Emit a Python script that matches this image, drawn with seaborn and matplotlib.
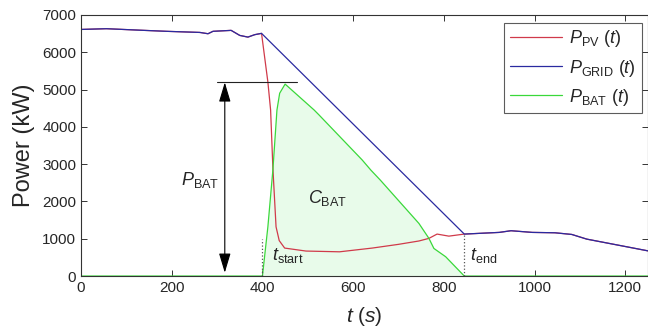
import numpy as np
import pandas as pd
import seaborn as sns
import matplotlib.pyplot as plt

# values (t in s, power in kW)
t_grid = [0, 56, 130, 188, 262, 280, 291, 331, 350, 368, 383, 398,
          845, 922, 948, 995, 1045, 1082, 1115, 1250]
p_grid = [6610, 6630, 6590, 6560, 6530, 6495, 6560, 6585, 6450, 6405, 6470, 6505,
          1125, 1170, 1215, 1170, 1160, 1115, 990, 675]

# PV drop between t_start and t_end (outside it PV sits under the grid curve)
t_pv_mid = [398, 412, 418, 423, 430, 437, 449, 496, 570, 642, 700, 745, 767, 785, 811, 845]
p_pv_mid = [6505, 5200, 4450, 2900, 1320, 950, 750, 670, 650, 750, 850, 940, 1010, 1125, 1070, 1125]

t_bat = [0, 400, 412, 423, 432, 438, 450, 514, 525, 620, 639, 660, 745, 767, 778, 804, 845, 1250]
p_bat = [0, 0, 1320, 2840, 4450, 4900, 5145, 4450, 4315, 3110, 2840, 2570, 1410, 1010, 740, 517, 0, 0]

t_start, t_end = 400, 845
p_bat_max = 5190

sns.set_style('ticks')
plt.rcParams['font.family'] = ['Liberation Sans', 'DejaVu Sans']
plt.rcParams['mathtext.fontset'] = 'custom'
plt.rcParams['mathtext.rm'] = 'Liberation Sans'
plt.rcParams['mathtext.it'] = 'Liberation Sans:italic'

# PV = grid before t_start and after t_end
tg = np.array(t_grid)
pg = np.array(p_grid)
t_pv = list(tg[tg < t_pv_mid[0]]) + t_pv_mid + list(tg[tg > t_pv_mid[-1]])
p_pv = list(pg[tg < t_pv_mid[0]]) + p_pv_mid + list(pg[tg > t_pv_mid[-1]])

df = pd.concat([
    pd.DataFrame({'t': t_pv, 'P': p_pv, 'series': 'pv'}),
    pd.DataFrame({'t': t_grid, 'P': p_grid, 'series': 'grid'}),
    pd.DataFrame({'t': t_bat, 'P': p_bat, 'series': 'bat'}),
])
colors = {'pv': '#d03a4a', 'grid': '#2a2aa0', 'bat': '#3ad83a'}
labels = {'pv': r'$P_{\rm PV}\ (t)$', 'grid': r'$P_{\rm GRID}\ (t)$', 'bat': r'$P_{\rm BAT}\ (t)$'}

fig = plt.figure(figsize=(6.48, 3.31), dpi=100)
ax = fig.add_axes([0.125, 0.166, 0.875, 0.789])

ax.fill_between(t_bat, p_bat, 0, color='#e8fbea', lw=0)
sns.lineplot(data=df, x='t', y='P', hue='series', palette=colors, sort=False,
             estimator=None, lw=0.9, ax=ax)

h, l = ax.get_legend_handles_labels()
leg = ax.legend(h, [labels[s] for s in l], loc='upper right', bbox_to_anchor=(0.989, 0.969),
                fontsize=13, frameon=True, fancybox=False, edgecolor='#333333',
                handlelength=2.9, handletextpad=0.4, borderpad=0.3, labelspacing=0.45,
                borderaxespad=0)
leg.get_frame().set_linewidth(0.8)

# dotted markers at t_start / t_end
ax.plot([t_start, t_start], [0, 1000], ls=':', color='#555555', lw=0.9)
ax.plot([t_end, t_end], [0, 1125], ls=':', color='#555555', lw=0.9)

# P_BAT arrow
ax.plot([299, 477], [p_bat_max, p_bat_max], color='#222222', lw=0.8)
ax.annotate('', xy=(317, p_bat_max), xytext=(317, 90),
            arrowprops=dict(arrowstyle='<|-|>,head_length=1.0,head_width=0.3',
                            color='black', lw=0.8, shrinkA=0, shrinkB=0, mutation_scale=12))

ax.text(262, 2570, r'$P_{\rm BAT}$', fontsize=13, ha='center', va='center')
ax.text(500, 2090, r'$C_{\rm BAT}$', fontsize=13, ha='left', va='center')
ax.text(422, 560, r'$t_{\rm start}$', fontsize=13, ha='left', va='center')
ax.text(858, 560, r'$t_{\rm end}$', fontsize=13, ha='left', va='center')

ax.set_xlim(0, 1250)
ax.set_ylim(0, 7000)
ax.set_xticks([0, 200, 400, 600, 800, 1000, 1200])
ax.set_yticks(range(0, 7001, 1000))
ax.tick_params(direction='in', top=True, right=True, length=4, width=0.7,
               labelsize=11, color='#333333')
for s in ax.spines.values():
    s.set_linewidth(0.8)
    s.set_color('#333333')
ax.set_xlabel(r'$t\ (s)$', fontsize=15, labelpad=7)
ax.set_ylabel('Power (kW)', fontsize=17, labelpad=5)

fig.savefig('out.png', dpi=100)
